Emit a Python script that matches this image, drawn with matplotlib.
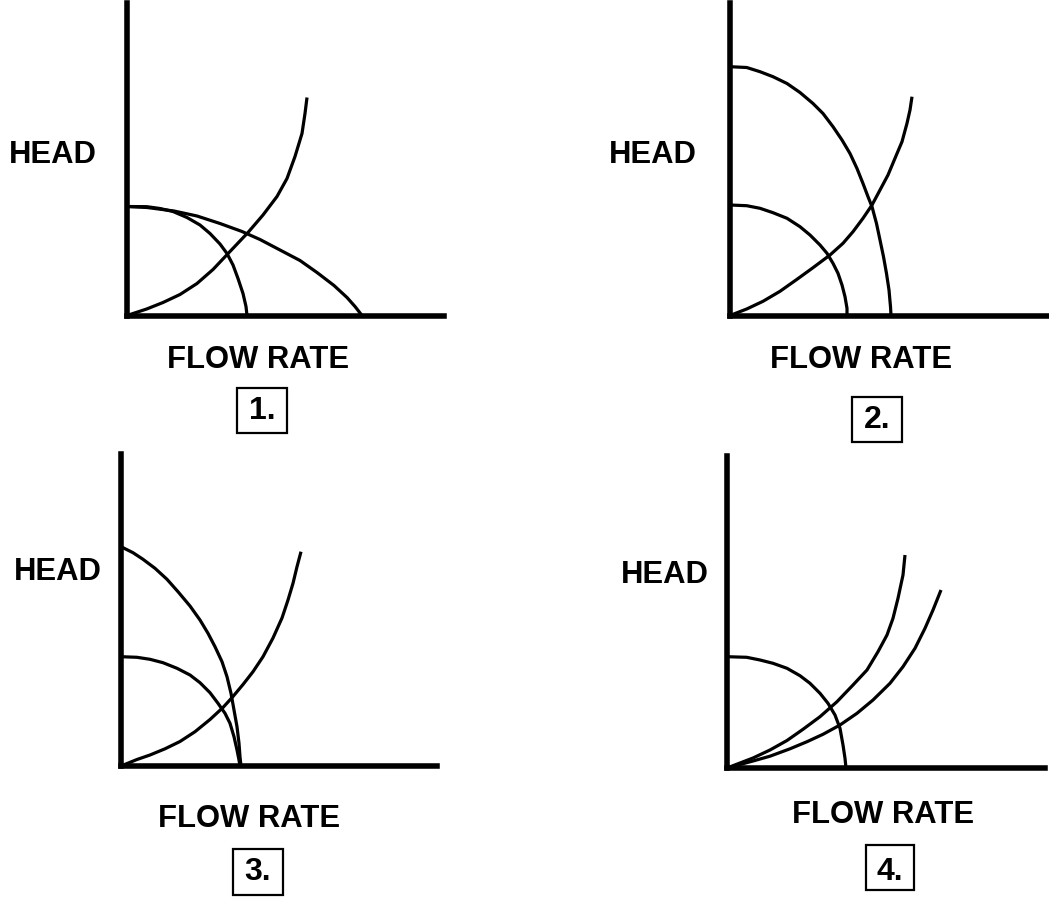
import matplotlib
matplotlib.use("Agg")
import matplotlib.pyplot as plt
from matplotlib.patches import Rectangle

# ---------------- data (flow, head) in drawing units ----------------
# Panel 1
p1_pump_a_flow = [0, 20, 33, 46, 60, 73, 83, 93, 100, 106, 111, 116, 119, 120]
p1_pump_a_head = [109, 108.8, 107, 104, 98, 90.5, 82, 71.5, 62, 50.5, 37, 22, 9, 0]
p1_pump_b_flow = [0, 20, 47, 70, 93, 115, 133, 153, 173, 190, 207, 220, 228, 235]
p1_pump_b_head = [109, 108, 104.5, 99.5, 92, 84, 76, 65.5, 55, 43, 30, 18, 9, 0]
p1_sys_flow = [0, 19.7, 36, 53, 70, 86, 103, 121, 136, 150, 160, 168, 175, 178, 180]
p1_sys_head = [0, 6.5, 13, 21, 32, 46, 64, 83, 100.5, 119, 137, 159, 182, 202, 218]

# Panel 2
p2_pump_big_flow = [0, 16.7, 30, 43, 57, 70, 83, 93, 103, 112, 120, 127, 133, 138,
                    142, 146.5, 150, 153.5, 156.5, 159, 160.5, 161]
p2_pump_big_head = [248.8, 248, 243.8, 238.8, 232, 223, 212, 202, 188.8, 175.5, 162, 147,
                    132, 118.8, 108.8, 92, 75.5, 58.8, 42, 25.5, 8.8, 0]
p2_pump_small_flow = [0, 16.7, 30, 43, 57, 70, 80, 90, 97, 103, 108, 112, 115, 117, 117]
p2_pump_small_head = [110.5, 109.8, 107.2, 102.8, 97.2, 88.8, 80.5, 70.5, 62.2, 52.2, 42.2,
                      30.5, 18.8, 7.2, 0]
p2_sys_flow = [0, 16.7, 33, 50, 67, 83, 100, 113, 123, 133, 142, 150, 158, 165, 172, 177, 180, 182]
p2_sys_head = [0, 6.5, 14.2, 24.2, 36.2, 47.8, 60.5, 72.2, 83.8, 97.2, 110.5, 125.5, 140.5,
               157.2, 173.8, 192.2, 205.5, 218.8]

# Panel 3
p3_pump_big_flow = [0, 12, 22, 34, 46, 57, 69, 79, 87, 94, 101, 106, 110, 113, 116, 118, 119, 120]
p3_pump_big_head = [219.3, 213.3, 206.7, 197.7, 186.7, 174.3, 160, 146, 132.7, 119.3, 104.3,
                    89.3, 72.7, 56, 39.3, 22.7, 9.3, 0]
p3_pump_small_flow = [0, 16, 29, 42, 56, 69, 79, 89, 97, 104, 109, 113, 116, 118, 119]
p3_pump_small_head = [109.3, 108.7, 106.7, 103.3, 97.7, 91, 83.3, 73.3, 62.7, 52.7, 42.7,
                      29.3, 16, 6, 0]
p3_sys_flow = [0, 16, 29, 44, 59, 74, 89, 102, 112, 122, 132, 142, 152, 161, 167, 172, 176, 180]
p3_sys_head = [0, 6.5, 11, 17.2, 24.5, 34.3, 46.5, 58.5, 69.5, 81.5, 94.3, 109.3, 128, 148,
               166, 182.7, 199.3, 214.3]

# Panel 4
p4_pump_flow = [0, 19.7, 33, 46, 60, 73, 83, 93, 101, 108, 113, 116, 118, 119]
p4_pump_head = [111.3, 110.7, 108, 104.7, 99.7, 92.3, 84.7, 74.7, 64.7, 53, 39.7, 23, 9.7, 0]
p4_sys_steep_flow = [0, 26, 43, 60, 76, 93, 110, 126, 140, 151, 160, 166, 171, 176, 178]
p4_sys_steep_head = [0, 10, 18, 27.5, 38.7, 51.3, 66.3, 83, 98, 116.3, 133, 149.7, 169.7, 193, 213]
p4_sys_flat_flow = [0, 26, 43, 63, 80, 96, 113, 130, 146, 163, 176, 188, 198, 206, 214]
p4_sys_flat_head = [0, 7, 11.8, 19.2, 26.3, 33.7, 43, 54.7, 68, 84.7, 101.3, 119.7, 139.7, 158, 178]

y_label = "HEAD"
x_label = "FLOW RATE"
panel_tags = ["1.", "2.", "3.", "4."]

# ---------------- figure ----------------
W, H = 1049, 910
fig = plt.figure(figsize=(W / 100, H / 100), dpi=100)
fig.patch.set_facecolor("white")

FONT = ["Liberation Sans", "DejaVu Sans"]


def fx(px):
    return px / W


def fy(py):
    return 1 - py / H


panels = [
    dict(o=(127, 315.5), L=(317, 312.5),
         curves=[(p1_pump_a_flow, p1_pump_a_head), (p1_pump_b_flow, p1_pump_b_head),
                 (p1_sys_flow, p1_sys_head)],
         head=(53, 163), flow=(258, 368), box=(237, 388, 50, 45), tag=(262, 419)),
    dict(o=(730, 315.5), L=(317, 312.5),
         curves=[(p2_pump_big_flow, p2_pump_big_head), (p2_pump_small_flow, p2_pump_small_head),
                 (p2_sys_flow, p2_sys_head)],
         head=(652.5, 163), flow=(861.5, 368), box=(852, 397, 50, 45), tag=(877, 428)),
    dict(o=(121, 766), L=(316, 312),
         curves=[(p3_pump_big_flow, p3_pump_big_head), (p3_pump_small_flow, p3_pump_small_head),
                 (p3_sys_flow, p3_sys_head)],
         head=(57.5, 580), flow=(249, 827), box=(233, 849, 50, 46), tag=(258, 880)),
    dict(o=(727, 768), L=(318, 312),
         curves=[(p4_pump_flow, p4_pump_head), (p4_sys_steep_flow, p4_sys_steep_head),
                 (p4_sys_flat_flow, p4_sys_flat_head)],
         head=(664.5, 583), flow=(883.5, 823), box=(866, 845, 48, 45), tag=(890, 880)),
]

for i, p in enumerate(panels):
    ox, oy = p["o"]
    lx, ly = p["L"]
    ax = fig.add_axes([fx(ox), fy(oy), lx / W, ly / H])
    ax.set_xlim(0, lx)
    ax.set_ylim(0, ly)
    ax.set_facecolor("none")
    for s in ["top", "right"]:
        ax.spines[s].set_visible(False)
    for s in ["left", "bottom"]:
        ax.spines[s].set_linewidth(4.0)
        ax.spines[s].set_color("black")
        ax.spines[s].set_capstyle("projecting")
    ax.set_xticks([])
    ax.set_yticks([])
    for xs, ys in p["curves"]:
        ax.plot(xs, ys, color="black", lw=2.3, solid_joinstyle="round",
                solid_capstyle="butt", clip_on=False)

    hx, hy = p["head"]
    fig.text(fx(hx), fy(hy), y_label, ha="center", va="baseline",
             fontsize=22.3, fontweight="bold", family=FONT)
    flx, fly = p["flow"]
    fig.text(fx(flx), fy(fly), x_label, ha="center", va="baseline",
             fontsize=22.3, fontweight="bold", family=FONT)
    bx, by, bw, bh = p["box"]
    fig.patches.append(Rectangle((fx(bx), fy(by + bh)), bw / W, bh / H,
                                 transform=fig.transFigure, fill=False,
                                 edgecolor="black", lw=1.6))
    tx, ty = p["tag"]
    fig.text(fx(tx), fy(ty), panel_tags[i], ha="center", va="baseline",
             fontsize=23, fontweight="bold", family=FONT)

fig.savefig("out.png", dpi=100, facecolor="white")
